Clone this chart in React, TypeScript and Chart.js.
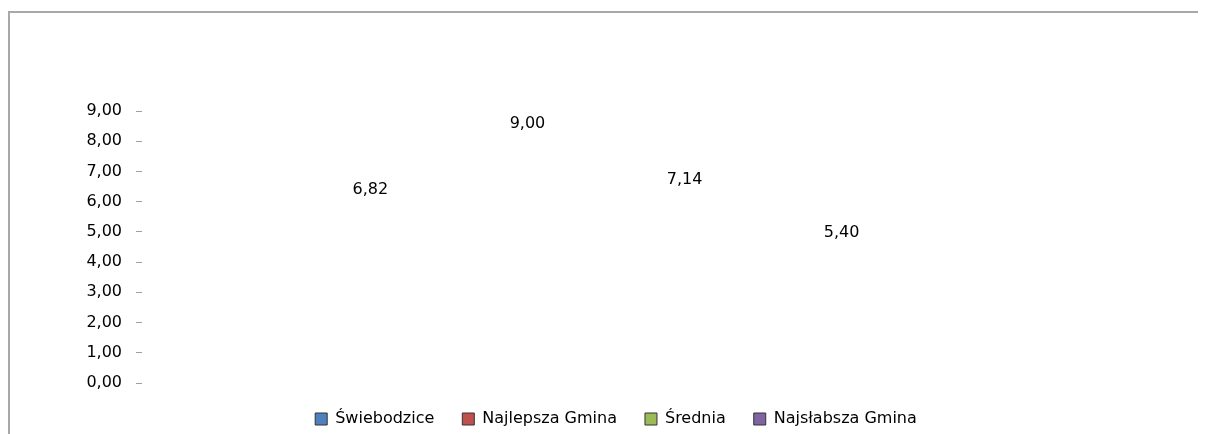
import React, { useEffect, useRef } from "react";
import { Chart, registerables } from "chart.js";

Chart.register(...registerables);

const CATEGORIES = [""];
const SERIES_NAMES = ["Świebodzice", "Najlepsza Gmina", "Średnia", "Najsłabsza Gmina"];
const SERIES_VALUES = [6.82, 9.0, 7.14, 5.4];
const SERIES_COLORS = ["#4F81BD", "#C0504D", "#9BBB59", "#8064A2"];
const Y_TICK_LABELS = ["0,00", "1,00", "2,00", "3,00", "4,00", "5,00", "6,00", "7,00", "8,00", "9,00"];

const FONT_FAMILY = '"DejaVu Sans", Verdana, sans-serif';
const FONT_SIZE = 16;
const fmt = (v: number) => v.toFixed(2).replace(".", ",");

const valueLabels = {
  id: "valueLabels",
  afterDatasetsDraw(chart: any) {
    const ctx = chart.ctx;
    ctx.save();
    ctx.font = `${FONT_SIZE}px ${FONT_FAMILY}`;
    ctx.fillStyle = "#000000";
    ctx.textAlign = "center";
    ctx.textBaseline = "middle";
    chart.data.datasets.forEach((ds: any, i: number) => {
      const meta = chart.getDatasetMeta(i);
      meta.data.forEach((el: any, j: number) => {
        ctx.fillText(fmt(ds.data[j]), el.x, el.y + 13);
      });
    });
    ctx.restore();
  },
};

export default function App() {
  const ref = useRef<HTMLCanvasElement | null>(null);

  useEffect(() => {
    if (!ref.current) return;
    const chart = new Chart(ref.current, {
      type: "bar",
      data: {
        labels: CATEGORIES,
        datasets: SERIES_NAMES.map((name, i) => ({
          label: name,
          data: [SERIES_VALUES[i]],
          backgroundColor: "rgba(0,0,0,0)",
          borderWidth: 0,
          yAxisID: "y",
        })),
      },
      options: {
        responsive: false,
        animation: false,
        devicePixelRatio: 1,
        layout: { padding: { left: 16, top: 98, right: 0, bottom: 0 } },
        datasets: { bar: { categoryPercentage: 0.677, barPercentage: 1 } },
        scales: {
          x: { type: "category", display: false },
          y: {
            type: "linear",
            position: "left",
            min: 0,
            max: 9,
            ticks: {
              stepSize: 1,
              padding: 14,
              color: "#000000",
              font: { family: FONT_FAMILY, size: FONT_SIZE },
              callback: (_v: any, idx: number) => Y_TICK_LABELS[idx],
            },
            grid: { drawOnChartArea: false, drawTicks: true, tickLength: 6, color: "#a0a0a0" },
            border: { display: false },
            afterFit: (s: any) => {
              s.width = 116;
            },
          },
          yR: {
            type: "linear",
            position: "right",
            display: true,
            grid: { display: false },
            ticks: { display: false },
            border: { display: false },
            afterFit: (s: any) => {
              s.width = 136;
            },
          },
        },
        plugins: {
          tooltip: { enabled: false },
          legend: {
            display: true,
            position: "bottom",
            labels: {
              boxWidth: 12,
              boxHeight: 12,
              padding: 28,
              color: "#000000",
              font: { family: FONT_FAMILY, size: FONT_SIZE },
              generateLabels: () =>
                SERIES_NAMES.map((name, i) => ({
                  text: name,
                  fillStyle: SERIES_COLORS[i],
                  strokeStyle: "#333333",
                  lineWidth: 1,
                  hidden: false,
                  datasetIndex: i,
                  fontColor: "#000000",
                })),
            },
          },
        },
      },
      plugins: [valueLabels],
    } as any);
    return () => chart.destroy();
  }, []);

  return (
    <>
      <style>{`html { overflow: hidden; }`}</style>
      <div
        style={{
          position: "relative",
          top: 3,
          borderTop: "2px solid #a8a8a8",
          borderLeft: "2px solid #a8a8a8",
          height: 440,
          width: 1210,
        }}
      >
        <canvas ref={ref} width={1196} height={424} style={{ display: "block" }} />
      </div>
    </>
  );
}
